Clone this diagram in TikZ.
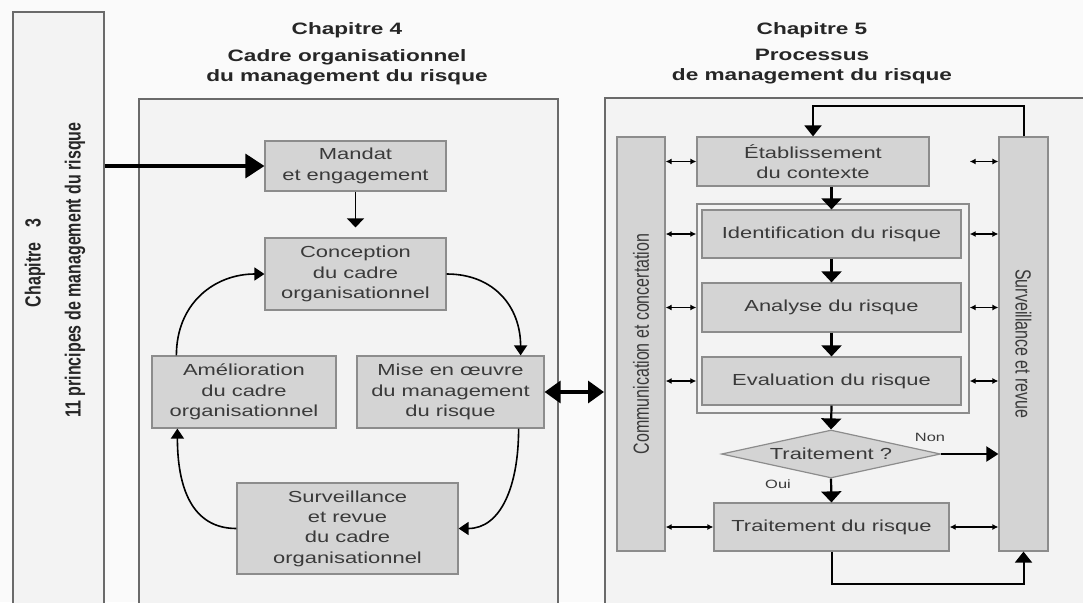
\documentclass[tikz,border=0pt]{standalone}
\usepackage{graphicx}
\usepackage{fontspec}
\setmainfont[FakeStretch=1.37]{Liberation Sans}
\newfontfamily\uprightsans{Liberation Sans}
\usetikzlibrary{arrows.meta,shapes.geometric}

\definecolor{pagebg}{HTML}{FAFAFA}
\definecolor{panelfill}{HTML}{F3F3F3}
\definecolor{panelline}{HTML}{6A6A6A}
\definecolor{boxfill}{HTML}{D4D4D4}
\definecolor{boxline}{HTML}{8C8C8C}
\definecolor{ink}{HTML}{3A3A3A}
\definecolor{titleink}{HTML}{262626}

\newcommand{\vtext}[1]{\scalebox{1}[1.37]{#1}}

\tikzset{
  panel/.style={draw=panelline, fill=panelfill, line width=1.6pt, anchor=north west, inner sep=0pt},
  stepbox/.style={draw=boxline, fill=boxfill, line width=1.2pt, inner sep=0pt, align=center,
    text=ink, font=\fontsize{16}{20.3}\selectfont},
  barbox/.style={draw=boxline, fill=boxfill, line width=1.2pt, inner sep=0pt},
  groupbox/.style={draw=boxline, fill=panelfill, line width=1.4pt, inner sep=0pt},
  decision/.style={diamond, aspect=4.56, draw=boxline, fill=boxfill, line width=1.2pt, inner sep=0pt,
    text=ink, font=\fontsize{16}{20}\selectfont},
  titletext/.style={align=center, text=titleink, font=\bfseries\fontsize{16.5}{20}\selectfont},
  vlabel/.style={text=ink, font=\uprightsans\fontsize{16}{20}\selectfont},
  vtitle/.style={text=titleink, font=\uprightsans\bfseries\fontsize{16}{20}\selectfont},
  smalltext/.style={text=ink, font=\fontsize{12}{14}\selectfont},
  bigarrow/.style={line width=3.4pt, -{Triangle[length=19pt,width=24pt]}},
  bothbig/.style={line width=3.4pt, {Triangle[length=16pt,width=22pt]}-{Triangle[length=16pt,width=22pt]}},
  downarrow/.style={line width=1.6pt, -{Triangle[length=9pt,width=17pt]}},
  looparrow/.style={line width=1.6pt, -{Triangle[length=10pt,width=13pt]}},
  flowarrow/.style={line width=2.2pt, -{Triangle[length=11pt,width=20pt]}},
  sidearrow/.style={line width=2pt, -{Triangle[length=12pt,width=15pt]}},
  feedback/.style={line width=2pt, -{Triangle[length=11pt,width=17pt]}},
  talk/.style={line width=1.2pt, {Latex[length=6pt,width=6pt]}-{Latex[length=6pt,width=6pt]}},
}

\begin{document}
\begin{tikzpicture}[x=1pt,y=-1pt]
  \useasboundingbox[fill=pagebg] (0,0) rectangle (1083,602);
  \clip (0,0) rectangle (1083,602);

  % ---- three chapter panels ----
  \node[panel, minimum width=91pt, minimum height=620pt] (chap3) at (12,11) {};
  \node[panel, minimum width=419pt, minimum height=540pt] (cadre) at (138,98) {};
  \node[panel, minimum width=500pt, minimum height=540pt] (proc) at (604,97) {};

  % ---- chapter 3 (vertical) ----
  \node[vtitle, rotate=90] (chap3num) at (35,263) {\vtext{Chapitre\hspace{0.9em}3}};
  \node[vtitle, rotate=90] (chap3txt) at (75,270) {\vtext{11 principes de management du risque}};

  % ---- headings ----
  \node[titletext] (t4a) at (347,30) {Chapitre 4};
  \node[titletext] (t4b) at (347,67) {Cadre organisationnel\\du management du risque};
  \node[titletext] (t5a) at (812,30) {Chapitre 5};
  \node[titletext] (t5b) at (812,67) {Processus\\de management du risque};

  % ---- chapter 4: framework cycle ----
  \node[stepbox, minimum width=181pt, minimum height=50pt] (mandat) at (355.5,166) {Mandat\\et engagement};
  \node[stepbox, minimum width=181pt, minimum height=72pt] (conception) at (355.5,274) {Conception\\du cadre\\organisationnel};
  \node[stepbox, minimum width=184pt, minimum height=72pt] (amelio) at (244,392) {Amélioration\\du cadre\\organisationnel};
  \node[stepbox, minimum width=187pt, minimum height=72pt] (mise) at (450.5,392) {Mise en œuvre\\du management\\du risque};
  \node[stepbox, minimum width=221pt, minimum height=91pt] (survcadre) at (347.5,528.5) {Surveillance\\et revue\\du cadre\\organisationnel};

  \draw[bigarrow] (chap3.east |- mandat.west) -- (mandat.west);
  \draw[downarrow, shorten >=10pt] (mandat.south) -- (conception.north);
  \draw[looparrow] (conception.east) .. controls +(48,0) and +(0,-48) .. ([xshift=-24pt]mise.north east);
  \draw[looparrow] ([xshift=-26pt]mise.south east) .. controls +(0,58) and +(42,0) .. (survcadre.east);
  \draw[looparrow] (survcadre.west) .. controls +(-45,0) and +(0,58) .. ([xshift=26pt]amelio.south west);
  \draw[looparrow] ([xshift=25pt]amelio.north west) .. controls +(0,-52) and +(-50,0) .. (conception.west);

  \draw[bothbig] (mise.east) -- (proc.west |- mise.east);

  % ---- chapter 5: process ----
  \node[barbox, minimum width=48pt, minimum height=414pt] (comm) at (641,344) {};
  \node[vlabel, rotate=90] (commtxt) at (comm.center) {\vtext{Communication et concertation}};
  \node[barbox, minimum width=49pt, minimum height=414pt] (surv) at (1023.5,344) {};
  \node[vlabel, rotate=-90] (survtxt) at (surv.center) {\vtext{Surveillance et revue}};

  \node[stepbox, minimum width=232pt, minimum height=49pt] (etab) at (813,161.5) {Établissement\\du contexte};
  \node[groupbox, minimum width=272pt, minimum height=209pt] (group) at (833,308.5) {};
  \node[stepbox, minimum width=259pt, minimum height=48pt] (ident) at (831.5,234) {Identification du risque};
  \node[stepbox, minimum width=259pt, minimum height=49pt] (analyse) at (831.5,307.5) {Analyse du risque};
  \node[stepbox, minimum width=259pt, minimum height=48pt] (evalu) at (831.5,381) {Evaluation du risque};
  \node[decision, minimum width=219pt, minimum height=48pt] (traitq) at (831,454) {Traitement ?};
  \node[stepbox, minimum width=235pt, minimum height=48pt] (trait) at (831.5,527) {Traitement du risque};

  \draw[flowarrow] (ident.north |- etab.south) -- (ident.north);
  \draw[flowarrow] (ident.south) -- (analyse.north);
  \draw[flowarrow] (analyse.south) -- (evalu.north);
  \draw[flowarrow] (evalu.south) -- (traitq.north);
  \draw[flowarrow] (traitq.south) -- (trait.north);

  \draw[sidearrow] (traitq.east) -- (surv.west |- traitq.east);
  \node[smalltext] (non) at (930,437) {Non};
  \node[smalltext] (oui) at (778,484) {Oui};

  \draw[feedback] (surv.north) -- ++(0,-30) -| (etab.north);
  \draw[feedback] (trait.south) -- ++(0,32) -| (surv.south);

  % exchanges with the two side bars
  \draw[talk] (comm.east |- etab) -- (etab.west);
  \draw[talk] (comm.east |- ident) -- (group.west |- ident);
  \draw[talk] (comm.east |- analyse) -- (group.west |- analyse);
  \draw[talk] (comm.east |- evalu) -- (group.west |- evalu);
  \draw[talk] (comm.east |- trait) -- (trait.west);
  \draw[talk] (group.east |- etab) -- (surv.west |- etab);
  \draw[talk] (group.east |- ident) -- (surv.west |- ident);
  \draw[talk] (group.east |- analyse) -- (surv.west |- analyse);
  \draw[talk] (group.east |- evalu) -- (surv.west |- evalu);
  \draw[talk] (trait.east) -- (surv.west |- trait);
\end{tikzpicture}
\end{document}
